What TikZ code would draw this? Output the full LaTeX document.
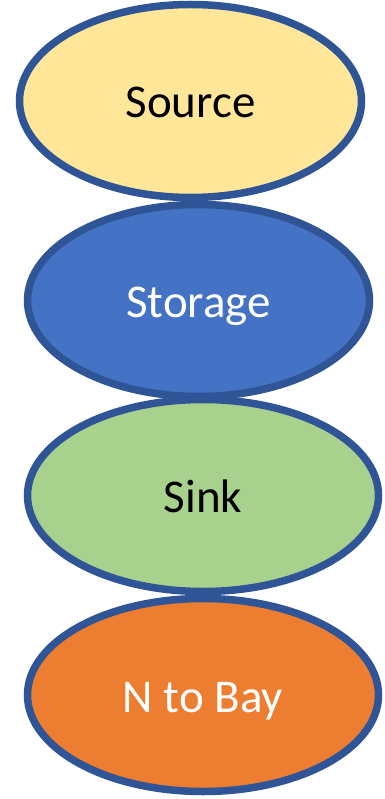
\documentclass[tikz,border=0pt]{standalone}
\usepackage{fontspec}
\setmainfont{Carlito}
\usetikzlibrary{shapes.geometric}

\definecolor{rim}{HTML}{2F5597}
\definecolor{srcfill}{HTML}{FFE699}
\definecolor{storefill}{HTML}{4472C4}
\definecolor{sinkfill}{HTML}{A9D18E}
\definecolor{bayfill}{HTML}{ED7D31}

\tikzset{
  blob/.style={ellipse, draw=rim, line width=7.5pt, inner sep=0pt,
    font=\fontsize{47}{50}\selectfont, text height=34pt, text depth=0pt}
}

\begin{document}
\begin{tikzpicture}[x=1pt, y=-1pt]
\useasboundingbox (0,0) rectangle (384,799);

\coordinate (P1) at (190.5, 101);
\coordinate (P2) at (198.5, 300.5);
\coordinate (P3) at (203, 495.5);
\coordinate (P4) at (203, 695);

\node[blob, fill=srcfill, text=black, minimum width=342pt, minimum height=193pt] (source) at (P1) {Source};
\node[blob, fill=storefill, text=white, minimum width=342pt, minimum height=192pt] (storage) at (P2) {Storage};
\node[blob, fill=sinkfill, text=black, minimum width=351pt, minimum height=192pt] (sink) at (P3) {Sink};
\node[blob, fill=bayfill, text=white, minimum width=351pt, minimum height=193pt] (bay) at (P4) {N to Bay};
\end{tikzpicture}
\end{document}
